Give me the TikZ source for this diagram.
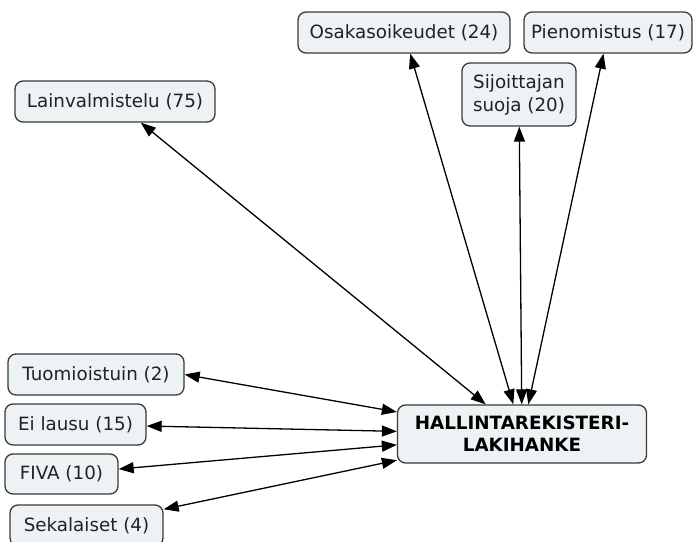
\documentclass[tikz,border=0pt]{standalone}
\usepackage{fontspec}
\setmainfont{DejaVu Sans}
\usetikzlibrary{arrows.meta}
\definecolor{boxfill}{HTML}{EDF2F4}
\definecolor{boxline}{HTML}{3A3A3A}
\definecolor{boxtext}{HTML}{222222}
\tikzset{
  topic/.style={draw=boxline, line width=1.3pt, fill=boxfill, rounded corners=8pt,
    inner sep=0pt, align=center, text=boxtext, font=\fontsize{18.3}{23}\selectfont},
  hub/.style={topic, text=black, font=\fontsize{18.3}{22}\selectfont\bfseries},
  biarrow/.style={line width=1.3pt, {Triangle[length=15pt,width=11pt]}-{Triangle[length=15pt,width=11pt]}}
}
\begin{document}
\begin{tikzpicture}[x=1pt,y=-1pt]
\useasboundingbox (0,0) rectangle (696,541);

\node[topic, minimum width=212pt, minimum height=41pt] (osak) at (404,32.5) {Osakasoikeudet (24)};
\node[topic, minimum width=168pt, minimum height=41pt] (pien) at (608,32.5) {Pienomistus (17)};
\node[topic, minimum width=114pt, minimum height=63pt] (sijo) at (519,94.5) {Sijoittajan\\suoja (20)};
\node[topic, minimum width=200pt, minimum height=41pt] (lain) at (115,101.5) {Lainvalmistelu (75)};
\node[topic, minimum width=176pt, minimum height=41pt] (tuom) at (96,374.5) {Tuomioistuin (2)};
\node[topic, minimum width=141pt, minimum height=41pt] (eila) at (75.5,424.5) {Ei lausu (15)};
\node[topic, minimum width=113pt, minimum height=40pt] (fiva) at (61.5,474) {FIVA (10)};
\node[topic, minimum width=153pt, minimum height=41pt] (seka) at (86.5,525.5) {Sekalaiset (4)};
\node[hub, minimum width=249pt, minimum height=58pt] (main) at (522,434) {HALLINTAREKISTERI-\\LAKIHANKE};

\draw[biarrow] (lain) -- (main);
\draw[biarrow] (osak) -- (main);
\draw[biarrow] (sijo) -- (main);
\draw[biarrow] (pien) -- (main);
\draw[biarrow] (tuom.east) -- (main.170);
\draw[biarrow] (eila) -- (main);
\draw[biarrow] (fiva) -- (main);
\draw[biarrow] (seka) -- (main);
\end{tikzpicture}
\end{document}
